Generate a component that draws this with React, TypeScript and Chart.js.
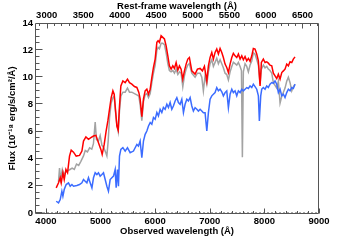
import React, { useEffect, useRef } from "react";
import { Chart, registerables } from "chart.js";

Chart.register(...registerables);

// 1 + z used for the rest-frame (top) axis
const restFactor = 1.338;
const obsMin = 3800;
const obsMax = 9000;
const fluxMin = -0.08;
const fluxMax = 14;

const obsTicks = [4000, 5000, 6000, 7000, 8000, 9000];
const restTicks = [3000, 3500, 4000, 4500, 5000, 5500, 6000, 6500];
const fluxTicks = [0, 2, 4, 6, 8, 10, 12, 14];

const redWave = [4188, 4231, 4262, 4280, 4311, 4335, 4366, 4396, 4432, 4463, 4505, 4554, 4615, 4659, 4688, 4732, 4779, 4823, 4871, 4915, 4962, 5006, 5030, 5067, 5103, 5134, 5164, 5195, 5226, 5250, 5273, 5299, 5323, 5347, 5372, 5409, 5451, 5493, 5530, 5573, 5621, 5665, 5701, 5725, 5756, 5786, 5817, 5848, 5878, 5909, 5939, 5969, 6000, 6031, 6054, 6078, 6109, 6140, 6170, 6201, 6232, 6261, 6292, 6323, 6353, 6384, 6415, 6445, 6475, 6506, 6536, 6567, 6598, 6627, 6671, 6731, 6774, 6823, 6865, 6902, 6946, 6975, 7006, 7037, 7066, 7097, 7128, 7158, 7189, 7220, 7249, 7280, 7311, 7341, 7372, 7403, 7432, 7463, 7494, 7524, 7555, 7586, 7615, 7646, 7677, 7707, 7738, 7769, 7798, 7829, 7860, 7890, 7921, 7945, 7981, 8012, 8043, 8072, 8103, 8135, 8164, 8195, 8226, 8256, 8287, 8318, 8348, 8378, 8409, 8439, 8470, 8501, 8530, 8561];
const redFlux = [1.85, 2.22, 2.59, 2.22, 2.96, 2.46, 3.2, 2.96, 4.19, 4.63, 4.48, 4.19, 4.24, 4.56, 5.3, 5.6, 5.42, 5.55, 5.67, 5.72, 5.18, 4.68, 4.31, 5.05, 6.04, 6.78, 7.64, 8.5, 9.0, 8.75, 7.64, 6.4, 6.1, 7.88, 9.36, 9.73, 9.6, 9.86, 9.6, 9.49, 9.32, 9.25, 8.88, 8.4, 7.1, 8.4, 9.0, 9.12, 8.75, 9.12, 9.98, 10.72, 11.34, 12.57, 12.69, 12.57, 13.06, 12.94, 12.82, 12.32, 11.58, 10.84, 10.6, 10.84, 10.65, 11.09, 10.52, 10.84, 10.6, 9.86, 10.47, 10.97, 11.34, 11.46, 10.47, 10.23, 10.6, 10.65, 10.47, 10.8, 9.73, 10.84, 11.46, 11.83, 11.34, 11.83, 12.08, 11.71, 12.12, 11.83, 11.46, 10.97, 10.72, 10.35, 10.97, 11.46, 11.76, 11.58, 11.46, 11.71, 11.34, 11.58, 11.29, 11.53, 11.21, 11.39, 11.17, 11.58, 12.12, 12.08, 11.71, 11.21, 9.36, 11.09, 11.34, 11.09, 11.14, 11.04, 10.89, 10.84, 10.3, 10.1, 9.9, 10.23, 9.86, 10.35, 10.47, 10.6, 10.97, 10.84, 11.14, 11.09, 11.34, 11.5];

const greyWave = [4230, 4249, 4270, 4300, 4330, 4360, 4400, 4440, 4480, 4520, 4560, 4600, 4640, 4688, 4720, 4760, 4800, 4840, 4870, 4902, 4925, 4962, 4993, 5025, 5060, 5090, 5116, 5140, 5164, 5195, 5226, 5250, 5273, 5299, 5323, 5347, 5372, 5409, 5451, 5493, 5530, 5573, 5621, 5665, 5701, 5725, 5756, 5786, 5817, 5848, 5878, 5909, 5939, 5969, 6000, 6031, 6054, 6078, 6109, 6140, 6170, 6201, 6232, 6261, 6292, 6323, 6353, 6384, 6415, 6445, 6475, 6506, 6536, 6567, 6598, 6627, 6671, 6731, 6774, 6823, 6854, 6883, 6914, 6946, 6975, 7006, 7037, 7066, 7097, 7128, 7158, 7189, 7220, 7249, 7280, 7311, 7341, 7372, 7403, 7432, 7463, 7494, 7524, 7555, 7580, 7597, 7615, 7646, 7677, 7707, 7738, 7769, 7798, 7829, 7860, 7890, 7921, 7945, 7981, 8012, 8043, 8072, 8103, 8135, 8164, 8195, 8226, 8256, 8287, 8318, 8348, 8378, 8409, 8439, 8470, 8501, 8530, 8561];
const greyFlux = [2.3, 3.3, 2.5, 3.2, 2.8, 3.0, 3.1, 3.2, 3.3, 3.2, 3.6, 3.5, 3.8, 4.2, 4.6, 4.5, 4.8, 4.7, 5.1, 6.7, 5.4, 5.3, 5.7, 5.0, 4.8, 4.5, 4.2, 5.3, 7.0, 8.1, 8.5, 8.6, 7.5, 6.5, 6.0, 7.5, 8.6, 8.9, 8.9, 9.2, 8.9, 8.9, 8.8, 8.7, 8.6, 8.0, 6.8, 8.2, 8.7, 8.8, 8.5, 8.8, 9.6, 10.3, 10.9, 12.0, 12.2, 12.1, 12.5, 12.5, 12.4, 11.8, 11.0, 10.5, 10.4, 10.5, 10.3, 10.6, 10.2, 10.4, 10.3, 9.3, 10.1, 10.6, 10.9, 11.0, 10.3, 10.0, 10.3, 10.3, 10.0, 9.0, 10.1, 9.5, 10.4, 11.0, 11.3, 10.8, 11.1, 11.4, 11.0, 11.3, 11.0, 10.7, 10.3, 10.2, 9.8, 10.4, 10.8, 11.1, 11.0, 10.9, 11.1, 10.8, 10.5, 4.1, 10.4, 11.0, 10.8, 10.4, 10.9, 11.2, 11.8, 11.7, 11.3, 10.9, 9.5, 10.6, 10.9, 10.7, 10.8, 10.6, 10.5, 10.3, 9.6, 9.4, 9.2, 9.7, 8.1, 8.6, 8.9, 9.2, 9.7, 10.0, 9.6, 9.0, 9.3, 9.5];

const blueWave = [4188, 4231, 4262, 4292, 4311, 4335, 4371, 4413, 4445, 4476, 4505, 4567, 4615, 4659, 4688, 4719, 4750, 4779, 4810, 4842, 4871, 4902, 4933, 4962, 4993, 5025, 5054, 5085, 5116, 5145, 5176, 5207, 5237, 5268, 5286, 5310, 5328, 5347, 5372, 5409, 5451, 5493, 5542, 5603, 5665, 5694, 5725, 5756, 5786, 5817, 5848, 5878, 5909, 5939, 5969, 6000, 6031, 6060, 6091, 6122, 6151, 6183, 6214, 6243, 6274, 6305, 6334, 6366, 6397, 6426, 6457, 6488, 6518, 6548, 6580, 6609, 6640, 6671, 6700, 6731, 6763, 6792, 6823, 6854, 6883, 6914, 6946, 6975, 7006, 7037, 7066, 7097, 7128, 7158, 7189, 7220, 7249, 7280, 7311, 7341, 7372, 7403, 7432, 7463, 7494, 7524, 7555, 7586, 7615, 7646, 7677, 7707, 7738, 7769, 7798, 7829, 7860, 7890, 7908, 7933, 7952, 7981, 8012, 8043, 8072, 8103, 8135, 8164, 8195, 8226, 8256, 8287, 8318, 8348, 8378, 8409, 8439, 8470, 8501, 8530, 8561];
const blueFlux = [0.86, 0.74, 0.98, 1.6, 1.23, 1.72, 2.09, 2.22, 1.97, 2.09, 1.97, 2.02, 2.09, 2.22, 2.46, 2.34, 2.22, 2.59, 2.22, 1.85, 2.59, 2.96, 2.83, 2.96, 2.71, 2.83, 2.96, 2.46, 1.97, 1.6, 2.46, 2.59, 2.71, 3.2, 1.85, 3.2, 1.97, 4.19, 4.68, 4.81, 4.56, 4.81, 4.44, 4.56, 5.05, 4.93, 5.3, 4.07, 5.3, 5.79, 6.04, 6.41, 6.66, 6.53, 7.03, 6.9, 7.4, 7.15, 7.64, 7.4, 7.77, 7.64, 8.01, 7.77, 8.14, 7.64, 7.88, 8.25, 8.5, 8.14, 8.01, 8.38, 7.4, 8.01, 8.38, 8.25, 8.5, 7.88, 7.51, 7.76, 7.64, 7.51, 7.64, 7.51, 7.39, 7.39, 6.04, 7.39, 8.38, 8.63, 8.75, 8.87, 9.24, 9.0, 9.12, 8.93, 8.63, 8.87, 9.0, 7.76, 8.75, 9.12, 8.87, 9.0, 8.63, 9.0, 8.87, 9.12, 9.0, 9.12, 9.24, 9.17, 9.36, 9.24, 9.49, 9.31, 9.12, 8.63, 6.78, 8.63, 9.12, 9.24, 9.12, 9.36, 9.24, 9.49, 9.61, 9.56, 9.73, 9.49, 8.87, 9.12, 8.63, 8.75, 8.5, 8.87, 9.12, 9.0, 9.24, 9.17, 9.49];

const FONT = '"Liberation Sans", Arial, Helvetica, sans-serif';
const AXIS_COLOR = "#555555";

const toPoints = (xs: number[], ys: number[]) => xs.map((x, i) => ({ x, y: ys[i] }));

const idlAxes = {
  id: "idlAxes",
  beforeDatasetsDraw(chart: any) {
    const { ctx, chartArea: a, scales } = chart;
    const y0 = Math.round(scales.y.getPixelForValue(0)) - 0.5;
    ctx.save();
    ctx.strokeStyle = "#a8a8a8";
    ctx.lineWidth = 1;
    ctx.setLineDash([2, 2]);
    ctx.beginPath();
    ctx.moveTo(a.left, y0);
    ctx.lineTo(a.right, y0);
    ctx.stroke();
    ctx.restore();
  },
  afterDatasetsDraw(chart: any) {
    const { ctx, chartArea: a, scales } = chart;
    ctx.save();
    ctx.strokeStyle = AXIS_COLOR;
    ctx.lineWidth = 1;
    const L = Math.round(a.left) + 0.5;
    const R = Math.round(a.right) - 0.5;
    const T = Math.round(a.top) + 0.5;
    const B = Math.round(a.bottom) - 0.5;
    ctx.beginPath();
    ctx.moveTo(L, T); ctx.lineTo(R, T); ctx.lineTo(R, B); ctx.lineTo(L, B); ctx.closePath();
    ctx.stroke();

    ctx.beginPath();
    // left axis ticks (flux)
    for (let v = 0; v <= fluxMax + 1e-6; v += 0.5) {
      const major = Math.abs(v / 2 - Math.round(v / 2)) < 1e-6;
      const py = Math.round(scales.y.getPixelForValue(v)) - 0.5;
      if (py < a.top || py > a.bottom) continue;
      ctx.moveTo(L, py);
      ctx.lineTo(L + (major ? 7 : 4), py);
    }
    // bottom axis ticks (observed)
    for (let v = 4000; v <= obsMax; v += 200) {
      const major = v % 1000 === 0;
      const px = Math.round(scales.x.getPixelForValue(v)) + 0.5;
      ctx.moveTo(px, B);
      ctx.lineTo(px, B - (major ? 5 : 2.5));
    }
    // top axis ticks (rest-frame)
    for (let v = 2900; v <= 6700; v += 100) {
      const major = v % 500 === 0;
      const px = Math.round(scales.x2.getPixelForValue(v)) + 0.5;
      if (px < a.left || px > a.right) continue;
      ctx.moveTo(px, T);
      ctx.lineTo(px, T + (major ? 5 : 2.5));
    }
    ctx.stroke();
    ctx.restore();
  },
};

export default function App() {
  const ref = useRef<HTMLCanvasElement | null>(null);
  useEffect(() => {
    if (!ref.current) return;
    const tickFont = { family: FONT, size: 9.5, weight: "bold" as const };
    const titleFont = { family: FONT, size: 9.5, weight: "bold" as const };
    const chart = new Chart(ref.current, {
      type: "line",
      data: {
        datasets: [
          { label: "red", data: toPoints(redWave, redFlux), borderColor: "#ff0000", borderWidth: 1.5, pointRadius: 0, tension: 0 },
          { label: "blue", data: toPoints(blueWave, blueFlux), borderColor: "#3b6cff", borderWidth: 1.5, pointRadius: 0, tension: 0 },
          { label: "grey", data: toPoints(greyWave, greyFlux), borderColor: "#a3a3a3", borderWidth: 1.5, pointRadius: 0, tension: 0 },
        ],
      },
      options: {
        animation: false,
        responsive: false,
        devicePixelRatio: 1,
        parsing: false as any,
        layout: { padding: { left: 0, right: 36, top: 0, bottom: 0 } },
        plugins: { legend: { display: false }, tooltip: { enabled: false } },
        scales: {
          x: {
            type: "linear",
            position: "bottom",
            min: obsMin,
            max: obsMax,
            grid: { display: false, drawTicks: false },
            border: { display: false },
            afterBuildTicks: (s: any) => { s.ticks = obsTicks.map((value) => ({ value })); },
            afterFit: (s: any) => { s.height = 26; },
            ticks: { color: "#000", font: tickFont, padding: 1.5, maxRotation: 0, autoSkip: false, callback: (v: any) => String(v) },
            title: { display: true, text: "Observed wavelength (Å)", color: "#000", font: titleFont, padding: { top: 0, bottom: 3 } },
          },
          x2: {
            type: "linear",
            position: "top",
            min: obsMin / restFactor,
            max: obsMax / restFactor,
            grid: { display: false, drawTicks: false },
            border: { display: false },
            afterBuildTicks: (s: any) => { s.ticks = restTicks.map((value) => ({ value })); },
            afterFit: (s: any) => { s.height = 23; },
            ticks: { color: "#000", font: tickFont, padding: 1.5, maxRotation: 0, autoSkip: false, callback: (v: any) => String(v) },
            title: { display: true, text: "Rest-frame wavelength (Å)", color: "#000", font: titleFont, padding: { top: 1, bottom: 0 } },
          },
          y: {
            type: "linear",
            position: "left",
            min: fluxMin,
            max: fluxMax,
            grid: { display: false, drawTicks: false },
            border: { display: false },
            afterBuildTicks: (s: any) => { s.ticks = fluxTicks.map((value) => ({ value })); },
            afterFit: (s: any) => { s.width = 35; },
            ticks: { color: "#000", font: tickFont, padding: 2, autoSkip: false, callback: (v: any) => String(v) },
            title: { display: true, text: "Flux (10⁻¹⁸ erg/s/cm²/Å)", color: "#000", font: titleFont, padding: { top: 7, bottom: 0 } },
          },
        },
      },
      plugins: [idlAxes],
    });
    return () => chart.destroy();
  }, []);
  return (
    <div style={{ position: "fixed", left: 0, top: 0, width: 355, height: 240, background: "#fff" }}>
      <canvas ref={ref} width={355} height={240} style={{ width: 355, height: 240 }} />
    </div>
  );
}
